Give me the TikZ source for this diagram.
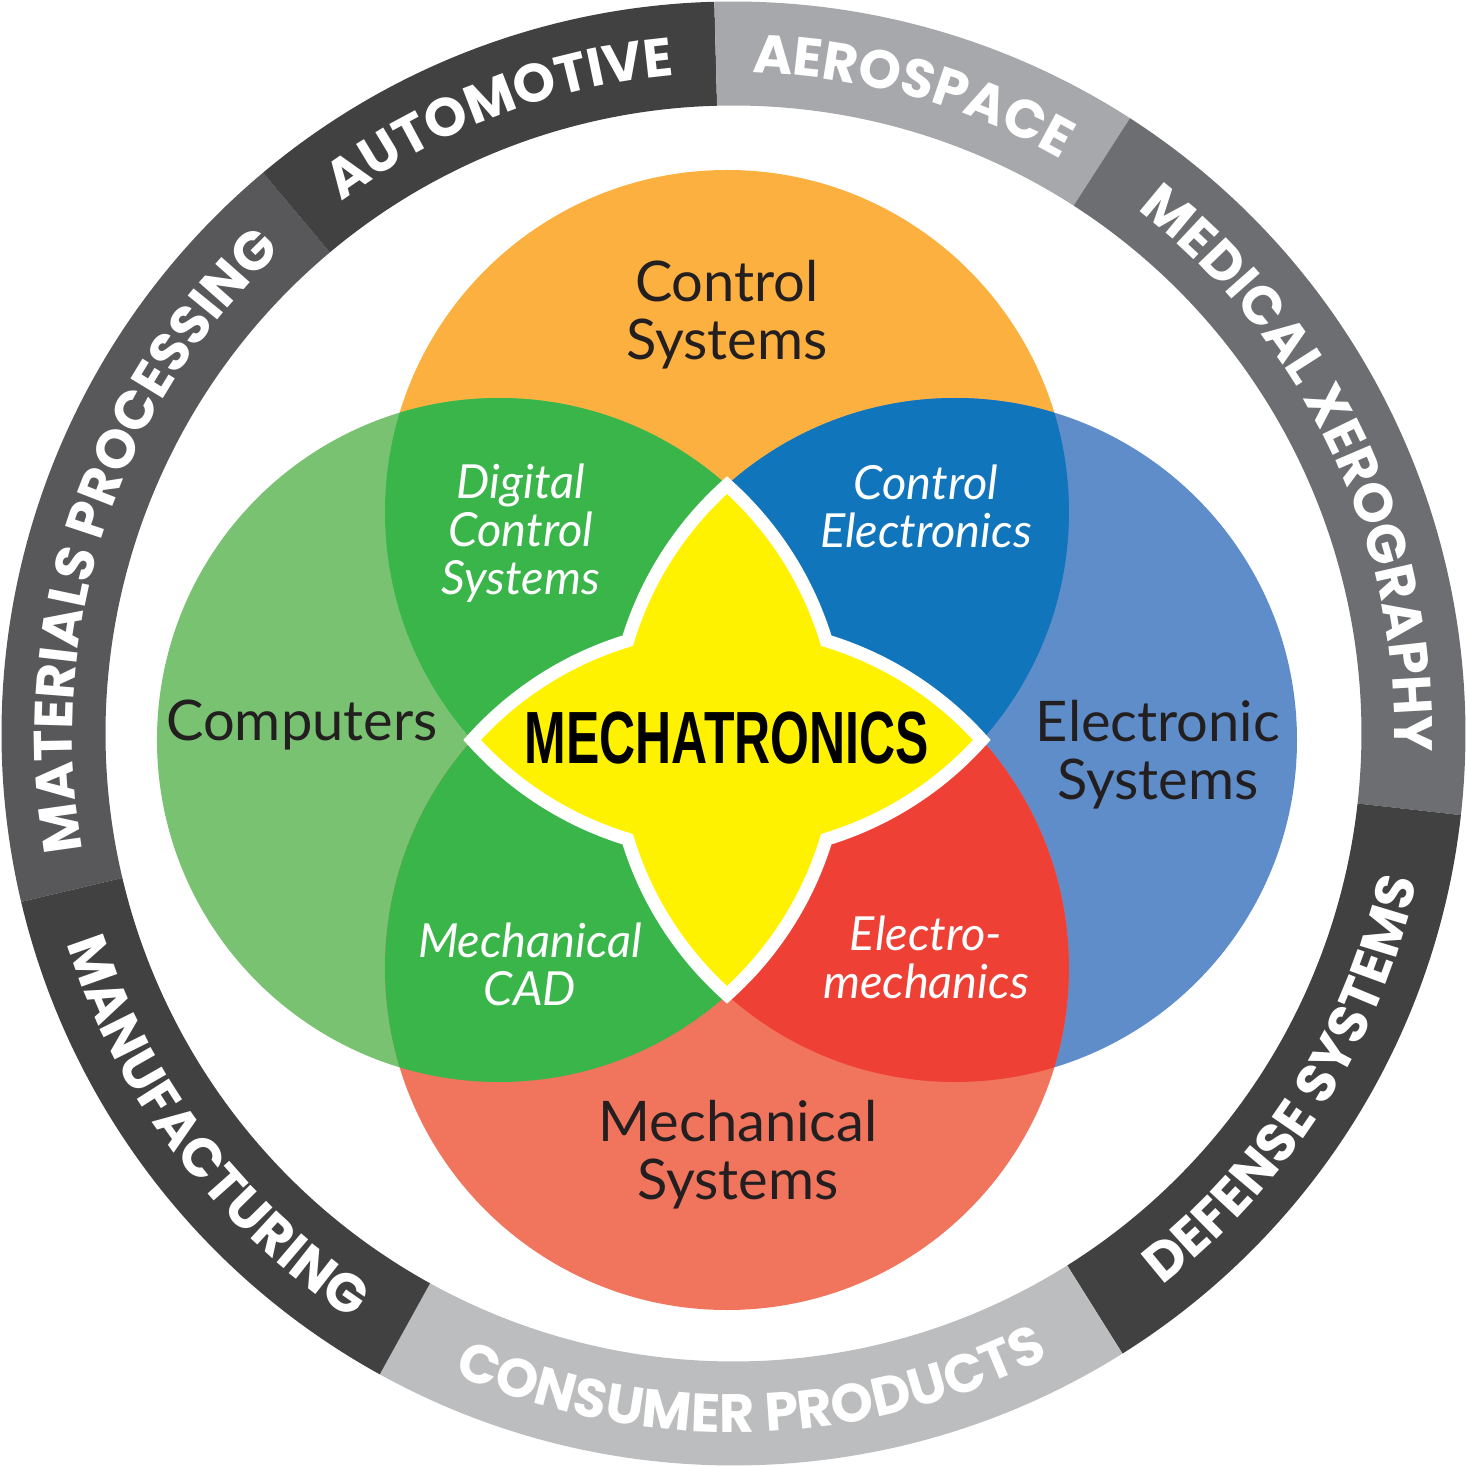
\documentclass[tikz,border=0pt]{standalone}
\usepackage{fontspec}
\usepackage{graphicx}
\setmainfont{Lato}
\newfontfamily\ringfont{Poppins}
\newfontfamily\mechafont{Liberation Sans}
\usetikzlibrary{decorations.text}
\definecolor{ctrlorange}{HTML}{FBB040}
\definecolor{compgreen}{HTML}{79C272}
\definecolor{elecblue}{HTML}{5F8DC9}
\definecolor{mechsalmon}{HTML}{F1745D}
\definecolor{dkgreen}{HTML}{3AB54A}
\definecolor{dkblue}{HTML}{1175BC}
\definecolor{dkred}{HTML}{EF4036}
\definecolor{mechayellow}{HTML}{FFF200}
\definecolor{labelblack}{HTML}{231F20}
\definecolor{ringdark}{HTML}{414142}
\definecolor{ringmid}{HTML}{58585A}
\definecolor{ringgray}{HTML}{6D6E71}
\definecolor{ringlight}{HTML}{A7A8AB}
\definecolor{ringpale}{HTML}{BCBDBF}
\begin{document}
\begin{tikzpicture}[x=1pt, y=1pt,
    bigtxt/.style={font=\fontsize{56}{58}\selectfont, text=labelblack, align=center, inner sep=0pt},
    smalltxt/.style={font=\fontsize{47}{48}\selectfont\itshape, text=white, align=center, inner sep=0pt},
    ringtext/.style={decorate, decoration={text along path, text align=center, text color=white,
        text={|\ringfont\bfseries\fontsize{54}{54}\selectfont|#1}}}]
    \useasboundingbox (-733.5,-733.5) rectangle (733.5,733.5);
    \foreach \a/\b/\c in {193.3/130/ringmid,130/91.5/ringdark,91.5/57.2/ringlight,57.2/-6.4/ringgray,
        -6.4/-57.9/ringdark,-57.9/-118.9/ringpale,-118.9/-166.7/ringdark} {
        \fill[\c] (\a:732) arc[start angle=\a, end angle=\b, radius=732] -- (\b:628)
            arc[start angle=\b, end angle=\a, radius=628] -- cycle;
    }
    \path[ringtext=MATERIALS PROCESSING] (193.3:661) arc[start angle=193.3, end angle=130, radius=661];
    \path[ringtext=AUTOMOTIVE] (130:661) arc[start angle=130, end angle=91.5, radius=661];
    \path[ringtext=AEROSPACE] (91.5:661) arc[start angle=91.5, end angle=57.2, radius=661];
    \path[ringtext=MEDICAL XEROGRAPHY] (57.2:661) arc[start angle=57.2, end angle=-6.4, radius=661];
    \path[ringtext=DEFENSE SYSTEMS] (-57.9:699) arc[start angle=-57.9, end angle=-6.4, radius=699];
    \path[ringtext=CONSUMER PRODUCTS] (-118.9:699) arc[start angle=-118.9, end angle=-57.9, radius=699];
    \path[ringtext=MANUFACTURING] (-166.7:699) arc[start angle=-166.7, end angle=-118.9, radius=699];
    \coordinate (cl) at (-234.5,-6.5);
    \coordinate (cr) at (221.5,-6.5);
    \coordinate (ct) at (-6.5,221.5);
    \coordinate (cb) at (-6.5,-234.5);
    \fill[ctrlorange] (ct) circle[radius=342];
    \fill[compgreen] (cl) circle[radius=342];
    \fill[elecblue] (cr) circle[radius=342];
    \fill[mechsalmon] (cb) circle[radius=342];
    \begin{scope}
        \clip (cl) circle[radius=342];
        \fill[dkgreen] (ct) circle[radius=342];
        \fill[dkgreen] (cb) circle[radius=342];
    \end{scope}
    \begin{scope}
        \clip (cr) circle[radius=342];
        \fill[dkblue] (ct) circle[radius=342];
        \fill[dkred] (cb) circle[radius=342];
    \end{scope}
    \filldraw[fill=mechayellow, draw=white, line width=13pt, line join=miter] (-6.5,248.41)
        arc[start angle=131.81, end angle=163.12, radius=342]
        arc[start angle=106.88, end angle=138.19, radius=342]
        arc[start angle=221.81, end angle=253.12, radius=342]
        arc[start angle=196.88, end angle=228.19, radius=342]
        arc[start angle=311.81, end angle=343.12, radius=342]
        arc[start angle=286.88, end angle=318.19, radius=342]
        arc[start angle=41.81, end angle=73.12, radius=342]
        arc[start angle=16.88, end angle=48.19, radius=342] -- cycle;
    \node[bigtxt] (ctrl) at (-6.5,418.5) {Control\\Systems};
    \node[bigtxt] (comp) at (-431.5,8.5) {Computers};
    \node[bigtxt] (elec) at (424.5,-21.5) {Electronic\\Systems};
    \node[bigtxt] (mech) at (4.5,-421.5) {Mechanical\\Systems};
    \node[smalltxt] (dcs) at (-212.5,200.5) {Digital\\Control\\Systems};
    \node[smalltxt] (ce) at (192.5,227.5) {Control\\Electronics};
    \node[smalltxt] (mcad) at (-203.5,-230.5) {Mechanical\\CAD};
    \node[smalltxt] (em) at (192.5,-223.5) {Electro-\\mechanics};
    \node[inner sep=0pt] (mecha) at (-6.5,-5)
        {\scalebox{0.675}[1]{\mechafont\bfseries\fontsize{74}{74}\selectfont MECHATRONICS}};
\end{tikzpicture}
\end{document}
